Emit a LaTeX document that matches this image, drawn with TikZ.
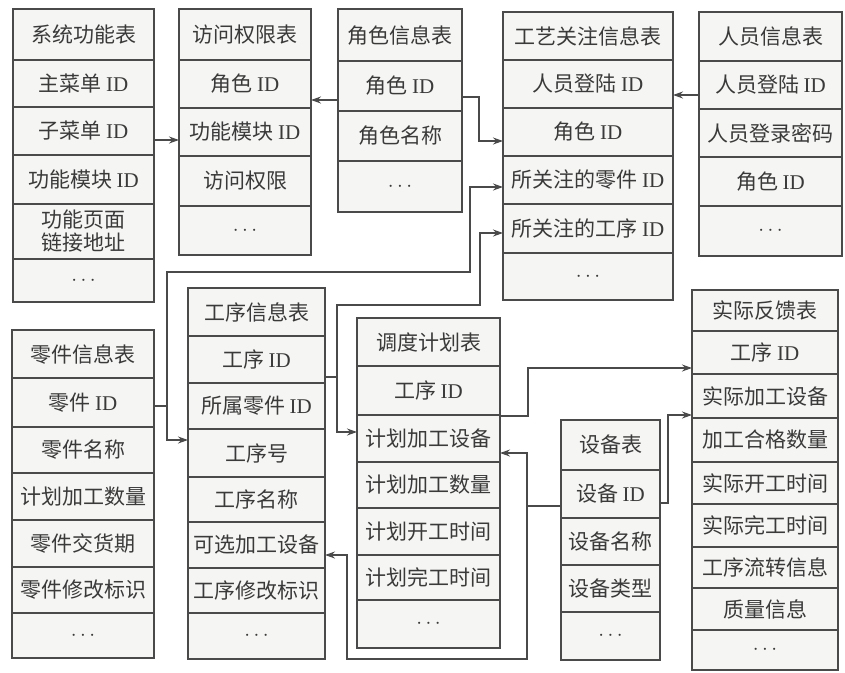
\documentclass[tikz,border=0pt]{standalone}
\usepackage{fontspec}
\setmainfont{Liberation Serif}
\newfontfamily\cjk{Noto Sans CJK SC}
\usetikzlibrary{arrows.meta}
\definecolor{ink}{HTML}{3A3A3A}
\definecolor{edge}{HTML}{4A4A4A}
\definecolor{cellbg}{HTML}{F5F5F3}
\newcommand\myID{\hspace{0.2em}{\rmfamily ID}}
\newcommand\mydots{$\cdots$}
\newcommand\tbox[4]{\foreach \ya/\yb/\txt [count=\i] in {#4} {\node[cell, minimum width={#3-#2}, minimum height={\yb-\ya}] (#1-\i) at ({(#2+#3)/2},{(\ya+\yb)/2}) {\txt};}}
\tikzset{
  cell/.style={draw=edge, line width=1.3pt, fill=cellbg, text=ink, inner sep=0pt, outer sep=0pt, align=center, font=\cjk\fontsize{21}{23}\selectfont},
  conn/.style={draw=edge, line width=1.2pt},
  arr/.style={conn, -{Stealth[length=10pt,width=7pt]}}
}
\begin{document}
\begin{tikzpicture}[x=1pt,y=-1pt]
\useasboundingbox[fill=white] (0,0) rectangle (845,672);
% tables
\tbox{A}{13}{154}{9/60/{系统功能表}, 60/107/{主菜单\myID}, 107/155/{子菜单\myID}, 155/204/{功能模块\myID}, 204/259/{功能页面\\链接地址}, 259/302/{\mydots}}
\tbox{B}{179}{311}{9/60/{访问权限表}, 60/108/{角色\myID}, 108/156/{功能模块\myID}, 156/206/{访问权限}, 206/255/{\mydots}}
\tbox{C}{338}{462}{9/61/{角色信息表}, 61/111/{角色\myID}, 111/161/{角色名称}, 161/212/{\mydots}}
\tbox{D}{503}{673}{12/60/{工艺关注信息表}, 60/108/{人员登陆\myID}, 108/156/{角色\myID}, 156/204/{所关注的零件\myID}, 204/253/{所关注的工序\myID}, 253/300/{\mydots}}
\tbox{E}{699}{842}{12/61/{人员信息表}, 61/109/{人员登陆\myID}, 109/157/{人员登录密码}, 157/206/{角色\myID}, 206/256/{\mydots}}
\tbox{F}{12}{154}{330/378/{零件信息表}, 378/427/{零件\myID}, 427/473/{零件名称}, 473/520/{计划加工数量}, 520/567/{零件交货期}, 567/613/{零件修改标识}, 613/658/{\mydots}}
\tbox{G}{188}{325}{288/336/{工序信息表}, 336/383/{工序\myID}, 383/429/{所属零件\myID}, 429/477/{工序号}, 477/522/{工序名称}, 522/568/{可选加工设备}, 568/613/{工序修改标识}, 613/659/{\mydots}}
\tbox{H}{357}{500}{318/366/{调度计划表}, 366/415/{工序\myID}, 415/462/{计划加工设备}, 462/508/{计划加工数量}, 508/555/{计划开工时间}, 555/600/{计划完工时间}, 600/648/{\mydots}}
\tbox{I}{561}{660}{420/470/{设备表}, 470/518/{设备\myID}, 518/565/{设备名称}, 565/612/{设备类型}, 612/660/{\mydots}}
\tbox{J}{692}{838}{290/331/{实际反馈表}, 331/374/{工序\myID}, 374/418/{实际加工设备}, 418/462/{加工合格数量}, 462/504/{实际开工时间}, 504/547/{实际完工时间}, 547/588/{工序流转信息}, 588/630/{质量信息}, 630/670/{\mydots}}
% connectors
\draw[arr] (A-3.east |- 0,140) -- (B-3.west |- 0,140);
\draw[arr] (C-2.west |- 0,100) -- (B-2.east |- 0,100);
\draw[arr] (C-2.east |- 0,97) -- (479,97) -- (479,141) -- (D-3.west |- 0,141);
\draw[arr] (E-2.west |- 0,95) -- (D-2.east |- 0,95);
\coordinate (j1) at (167,406);
\draw[arr] (F-2.east |- j1) -- (j1) -- (167,272) -- (470,272) -- (470,187) -- (D-4.west |- 0,187);
\draw[arr] (j1) -- (167,440) -- (G-4.west |- 0,440);
\coordinate (j2) at (337,377);
\draw[arr] (G-2.east |- j2) -- (j2) -- (337,305) -- (480,305) -- (480,233) -- (D-5.west |- 0,233);
\draw[arr] (j2) -- (337,432) -- (H-3.west |- 0,432);
\draw[arr] (H-2.east |- 0,416) -- (528,416) -- (528,368) -- (J-2.west |- 0,368);
\coordinate (j3) at (527,506);
\draw[arr] (I-2.west |- j3) -- (j3) -- (527,453) -- (H-3.east |- 0,453);
\draw[arr] (j3) -- (527,659) -- (347,659) -- (347,555) -- (G-6.east |- 0,555);
\draw[arr] (I-2.east |- 0,503) -- (668,503) -- (668,415) -- (J-3.west |- 0,415);
\end{tikzpicture}
\end{document}
